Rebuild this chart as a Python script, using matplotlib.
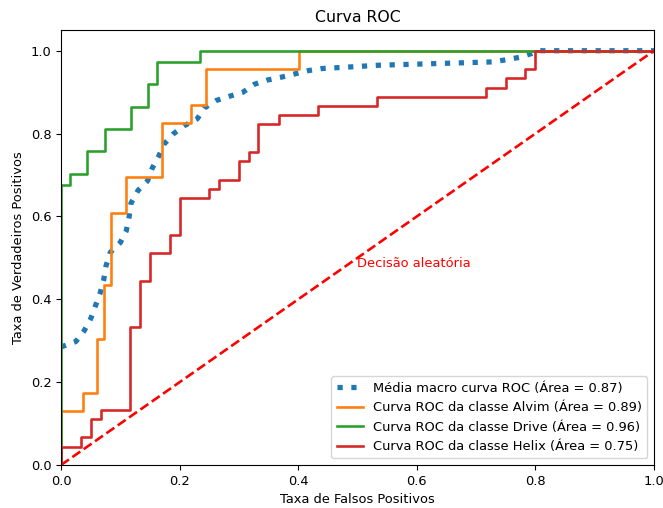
import matplotlib.pyplot as plt
import numpy as np

# curvas ROC (fpr, tpr)
alvim_fpr = [0, 0, 0.037, 0.037, 0.061, 0.061, 0.073, 0.073, 0.085, 0.085, 0.110, 0.110,
             0.171, 0.171, 0.220, 0.220, 0.244, 0.244, 0.402, 0.402, 1.0]
alvim_tpr = [0, 0.130, 0.130, 0.174, 0.174, 0.304, 0.304, 0.435, 0.435, 0.609, 0.609, 0.696,
             0.696, 0.826, 0.826, 0.870, 0.870, 0.957, 0.957, 1.0, 1.0]

drive_fpr = [0, 0, 0.015, 0.015, 0.044, 0.044, 0.074, 0.074, 0.118, 0.118, 0.147, 0.147,
             0.162, 0.162, 0.235, 0.235, 1.0]
drive_tpr = [0, 0.676, 0.676, 0.703, 0.703, 0.757, 0.757, 0.811, 0.811, 0.865, 0.865, 0.919,
             0.919, 0.973, 0.973, 1.0, 1.0]

helix_fpr = [0, 0, 0.033, 0.033, 0.050, 0.050, 0.067, 0.067, 0.117, 0.117, 0.133, 0.133,
             0.150, 0.150, 0.183, 0.183, 0.200, 0.200, 0.250, 0.250, 0.267, 0.267, 0.300,
             0.300, 0.317, 0.317, 0.333, 0.333, 0.367, 0.367, 0.433, 0.433, 0.533, 0.533,
             0.717, 0.717, 0.750, 0.750, 0.783, 0.783, 0.800, 0.800, 1.0]
helix_tpr = [0, 0.044, 0.044, 0.067, 0.067, 0.111, 0.111, 0.133, 0.133, 0.333, 0.333, 0.444,
             0.444, 0.511, 0.511, 0.556, 0.556, 0.644, 0.644, 0.667, 0.667, 0.689, 0.689,
             0.733, 0.733, 0.756, 0.756, 0.822, 0.822, 0.844, 0.844, 0.867, 0.867, 0.889,
             0.889, 0.911, 0.911, 0.933, 0.933, 0.956, 0.956, 1.0, 1.0]

macro_fpr = [0, 0.025, 0.039, 0.050, 0.058, 0.066, 0.072, 0.076, 0.083, 0.100, 0.110,
             0.115, 0.118, 0.130, 0.146, 0.154, 0.165, 0.174, 0.190, 0.209, 0.230, 0.242,
             0.262, 0.284, 0.307, 0.326, 0.347, 0.371, 0.394, 0.417, 0.440, 0.489, 0.536,
             0.608, 0.680, 0.727, 0.750, 0.773, 0.793, 0.805, 1.0]
macro_tpr = [0.285, 0.298, 0.324, 0.353, 0.384, 0.415, 0.447, 0.481, 0.513, 0.537, 0.565,
             0.600, 0.632, 0.663, 0.686, 0.717, 0.746, 0.775, 0.800, 0.820, 0.836, 0.862,
             0.880, 0.890, 0.900, 0.919, 0.929, 0.936, 0.944, 0.952, 0.957, 0.961, 0.965,
             0.968, 0.971, 0.973, 0.978, 0.984, 0.993, 1.0, 1.0]

areas = {'macro': 0.87, 'Alvim': 0.89, 'Drive': 0.96, 'Helix': 0.75}

plt.rcParams['font.family'] = 'DejaVu Sans'
plt.rcParams['font.size'] = 9.4

fig = plt.figure(figsize=(6.63, 5.08), dpi=100)
ax = fig.add_axes([0.092, 0.0846, 0.8944, 0.8563])

ax.plot(macro_fpr, macro_tpr, color='#1f77b4', linestyle=':', linewidth=3.76,
        label='Média macro curva ROC (Área = {0:0.2f})'.format(areas['macro']))
ax.plot(alvim_fpr, alvim_tpr, color='#ff7f0e', linewidth=1.88,
        label='Curva ROC da classe Alvim (Área = {0:0.2f})'.format(areas['Alvim']))
ax.plot(drive_fpr, drive_tpr, color='#2ca02c', linewidth=1.88,
        label='Curva ROC da classe Drive (Área = {0:0.2f})'.format(areas['Drive']))
ax.plot(helix_fpr, helix_tpr, color='#d62728', linewidth=1.88,
        label='Curva ROC da classe Helix (Área = {0:0.2f})'.format(areas['Helix']))

ax.plot([0, 1], [0, 1], 'r--', linewidth=1.88)
ax.text(0.5, 0.478, 'Decisão aleatória', color='red')

ax.set_xlim([0.0, 1.0])
ax.set_ylim([0.0, 1.05])
ax.set_xlabel('Taxa de Falsos Positivos')
ax.set_ylabel('Taxa de Verdadeiros Positivos')
ax.set_title('Curva ROC', fontsize=11.3)
ax.legend(loc='lower right')

fig.savefig('out.png', dpi=100)
